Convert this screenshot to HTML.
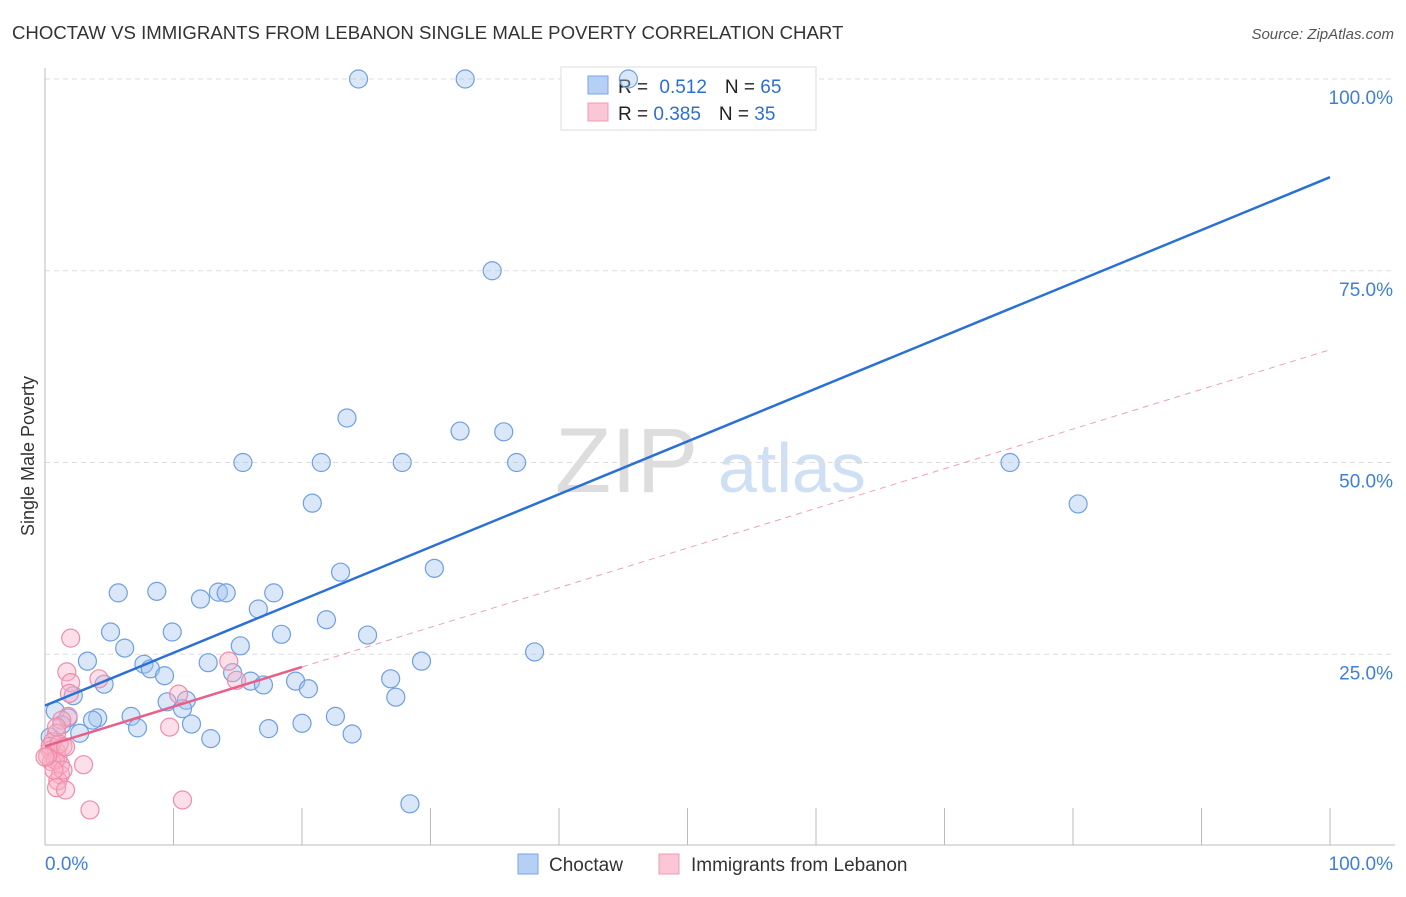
<!DOCTYPE html>
<html><head><meta charset="utf-8"><style>
body{margin:0;background:#fff;font-family:"Liberation Sans",sans-serif}
svg text{font-family:"Liberation Sans",sans-serif}
</style></head><body>
<svg id="c" width="1406" height="892">
<text x="12" y="39" font-size="18.6" fill="#333">CHOCTAW VS IMMIGRANTS FROM LEBANON SINGLE MALE POVERTY CORRELATION CHART</text>
<text x="1394" y="39" font-size="15" fill="#555" text-anchor="end" font-style="italic">Source: ZipAtlas.com</text>
<text x="34" y="456" font-size="18" fill="#333" text-anchor="middle" transform="rotate(-90 34 456)">Single Male Poverty</text>
<text x="555" y="492" font-size="92" fill="#ddd" font-family="Liberation Serif">ZIP</text>
<text x="718" y="492" font-size="70" fill="#cfe0f5">atlas</text>
<g id="grid"></g>
<g>
<rect x="561" y="67" width="255" height="63" fill="#fff" stroke="#ddd"/>
<rect x="588" y="76" width="20" height="18" fill="#b5cff5" stroke="#7aa6e6"/>
<rect x="588" y="103" width="20" height="18" fill="#fbc6d6" stroke="#f29ab5"/>
<text x="618" y="93" font-size="19" fill="#222">R = <tspan fill="#2d6fd1" dx="6">0.512</tspan><tspan dx="18" fill="#222">N = </tspan><tspan fill="#2d6fd1">65</tspan></text>
<text x="618" y="120" font-size="19" fill="#222">R = <tspan fill="#2d6fd1">0.385</tspan><tspan dx="18" fill="#222">N = </tspan><tspan fill="#2d6fd1">35</tspan></text>
</g>
<g id="pts"></g><g id="lines"></g>
<g>
<rect x="518" y="854" width="20" height="20" fill="#b5cff5" stroke="#7aa6e6"/>
<text x="549" y="871" font-size="19" fill="#333">Choctaw</text>
<rect x="659" y="854" width="20" height="20" fill="#fbc6d6" stroke="#f29ab5"/>
<text x="691" y="871" font-size="19" fill="#333">Immigrants from Lebanon</text>
</g>
</svg>
<script>
const blueX=[24.4,32.7,45.4,34.8,23.5,32.3,35.7,15.4,21.5,27.8,36.7,75.1,80.4,20.8,23.0,30.3,5.7,8.7,12.1,13.5,14.1,17.8,16.6,5.1,9.9,18.4,21.9,25.1,6.2,15.2,7.7,8.2,12.7,9.3,14.6,29.3,38.1,3.3,4.6,2.2,16.0,17.0,19.5,20.5,26.9,27.3,9.5,11.0,10.7,0.8,1.8,4.1,3.7,6.7,11.4,7.2,17.4,20.0,22.6,23.9,12.9,2.7,0.4,28.4,1.3];
const blueY=[100,100,100,75,55.8,54.1,54.0,50,50,50,50,50,44.6,44.7,35.7,36.2,33.0,33.2,32.2,33.1,33.0,33.0,30.9,27.9,27.9,27.6,29.5,27.5,25.8,26.1,23.7,23.1,23.9,22.2,22.6,24.1,25.3,24.1,21.1,19.6,21.5,21.0,21.5,20.5,21.8,19.4,18.8,19.0,17.9,17.6,16.7,16.7,16.4,16.9,15.9,15.4,15.3,16.0,16.9,14.6,14.0,14.7,14.2,5.5,15.8];
const pinkX=[2.0,1.7,2.0,1.9,4.2,1.8,1.3,0.9,0.6,0.4,0.9,1.0,0.5,1.2,1.2,1.0,0.9,1.6,3.0,3.5,10.7,9.7,10.4,14.3,14.9,1.4,0.4,0.8,0.2,1.4,1.1,1.6,0.7,0.9,0];
const pinkY=[27.1,22.7,21.3,19.9,21.8,16.9,16.4,14.7,13.6,12.5,12.3,11.5,11.0,10.6,9.3,8.5,7.6,7.3,10.6,4.7,6.0,15.5,19.8,24.1,21.6,13.0,13.0,11.2,11.7,9.9,13.3,12.9,9.9,15.5,11.6];
const yTicks=[25,50,75,100];
const yTickLabels=["25.0%","50.0%","75.0%","100.0%"];
const xTicks=[10,20,30,40,50,60,70,80,90,100];
const blueTrend=[18.3,0.689];
const pinkTrend=[13.0,0.517];
const X0=45,X1=1330,Y0=846,Y100=79;
const sx=v=>X0+(X1-X0)*v/100, sy=v=>Y0-(Y0-Y100)*v/100;
const NS='http://www.w3.org/2000/svg';
function mk(t,a,p){const e=document.createElementNS(NS,t);for(const k in a)e.setAttribute(k,a[k]);p.appendChild(e);return e;}
const g=document.getElementById('grid');
yTicks.forEach((t,i)=>{
 const l=mk('line',{x1:X0,x2:1395,y1:sy(t),y2:sy(t),stroke:'#ddd','stroke-dasharray':'5,4'},g);
 
 
 const tx=mk('text',{x:1393,y:sy(t)+25,'font-size':19,fill:'#3f7fd8','text-anchor':'end'},g);tx.textContent=yTickLabels[i];
 
 
});
const ax=mk('line',{x1:X0,x2:X0,y1:68,y2:845,stroke:'#bbb'},g);


const bx=mk('line',{x1:X0,x2:1395,y1:845,y2:845,stroke:'#bbb'},g);


xTicks.forEach(t=>{const l=mk('line',{x1:sx(t),x2:sx(t),y1:808,y2:845,stroke:'#bbb'},g);
 
 });
let t0=mk('text',{x:45,y:870,'font-size':19,fill:'#3f7fd8'},g);t0.textContent='0.0%';


let t1=mk('text',{x:1393,y:870,'font-size':19,fill:'#3f7fd8','text-anchor':'end'},g);t1.textContent='100.0%';


const P=document.getElementById('pts');
blueX.forEach((x,i)=>{const c=mk('circle',{cx:sx(x),cy:sy(blueY[i]),r:9,fill:'rgba(160,195,240,0.4)',stroke:'#6f9fe2','stroke-width':1.2},P);
 
 });
pinkX.forEach((x,i)=>{const c=mk('circle',{cx:sx(x),cy:sy(pinkY[i]),r:9,fill:'rgba(248,175,198,0.4)',stroke:'#f08caa','stroke-width':1.2},P);
 
 });
const L=document.getElementById('lines');
let bl=mk('line',{x1:sx(0),y1:sy(blueTrend[0]),x2:sx(100),y2:sy(blueTrend[0]+100*blueTrend[1]),stroke:'#2a70d6','stroke-width':2.5},L);


let pd=mk('line',{x1:sx(20),y1:sy(pinkTrend[0]+20*pinkTrend[1]),x2:sx(100),y2:sy(pinkTrend[0]+100*pinkTrend[1]),stroke:'#eea0b8','stroke-width':1,'stroke-dasharray':'6,5'},L);


let pl=mk('line',{x1:sx(0),y1:sy(pinkTrend[0]),x2:sx(20),y2:sy(pinkTrend[0]+20*pinkTrend[1]),stroke:'#e8608a','stroke-width':2.5},L);


</script>
</body></html>
